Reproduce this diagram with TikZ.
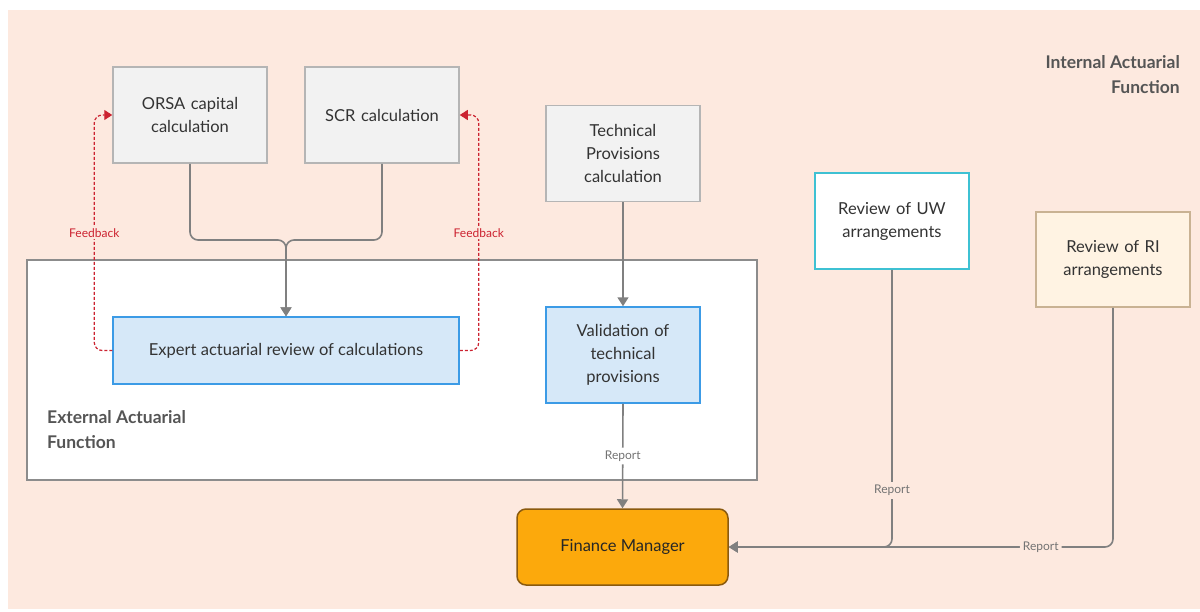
\documentclass[tikz,border=0pt]{standalone}
\usepackage{fontspec}
\setmainfont{Lato}
\usetikzlibrary{arrows.meta}
\definecolor{bgpeach}{HTML}{FDE9DF}
\definecolor{txt}{HTML}{333333}
\definecolor{ttl}{HTML}{555555}
\definecolor{grayfill}{HTML}{F2F2F2}
\definecolor{grayline}{HTML}{B5B5B5}
\definecolor{bluefill}{HTML}{D6E8F8}
\definecolor{blueline}{HTML}{3C9BE6}
\definecolor{cyanline}{HTML}{3EC1D3}
\definecolor{creamfill}{HTML}{FFF3E3}
\definecolor{tanline}{HTML}{C9B293}
\definecolor{orangefill}{HTML}{FCA90C}
\definecolor{orangeline}{HTML}{8A5A0E}
\definecolor{conncol}{HTML}{808080}
\definecolor{fbred}{HTML}{CC2230}
\definecolor{outerline}{HTML}{8C8C8C}
\tikzset{
  box/.style={draw, line width=1.5pt, align=center, text=txt, font=\fontsize{16.5}{23}\selectfont, inner sep=0pt},
  graybox/.style={box, fill=grayfill, draw=grayline, minimum width=154pt, minimum height=96pt, text width=140pt},
  bluebox/.style={box, fill=bluefill, draw=blueline},
  conn/.style={draw=conncol, line width=1.6pt, -{Triangle[length=9pt,width=11pt]}, rounded corners=8pt},
  plain/.style={draw=conncol, line width=1.6pt, rounded corners=8pt},
  fb/.style={draw=fbred, line width=1.2pt, dashed, dash pattern=on 3pt off 2pt, -{Triangle[length=8pt,width=10pt]}, rounded corners=8pt},
  fblbl/.style={font=\fontsize{12}{14}\selectfont, text=fbred, fill=bgpeach, inner sep=2pt},
  replbl/.style={font=\fontsize{12}{14}\selectfont, text=conncol!90!black, inner sep=3pt},
  ttlstyle/.style={font=\bfseries\fontsize{17.5}{25}\selectfont, text=ttl, inner sep=0pt},
}
\begin{document}
\begin{tikzpicture}[x=1pt,y=-1pt]
\useasboundingbox (0,0) rectangle (1200,611);
\fill[bgpeach] (8,10) rectangle (1200,609);
% external function container
\node[draw=outerline, fill=white, line width=1.5pt, minimum width=730pt, minimum height=220pt, inner sep=0pt] (ext) at (392,370) {};
\node[ttlstyle, align=left, anchor=north west] (extlbl) at (47,410) {External Actuarial\\Function};
\node[ttlstyle, align=right, anchor=north east] (intlbl) at (1180,55) {Internal Actuarial\\Function};
% boxes
\node[graybox] (orsa) at (190,115) {ORSA capital\\calculation};
\node[graybox] (scr) at (382,115) {SCR calculation};
\node[graybox] (tp) at (623,153.5) {Technical\\Provisions\\calculation};
\node[box, fill=white, draw=cyanline, minimum width=154pt, minimum height=96pt, text width=140pt] (uw) at (892,221) {Review of UW\\arrangements};
\node[box, fill=creamfill, draw=tanline, minimum width=154pt, minimum height=95pt, text width=140pt] (ri) at (1113,259.5) {Review of RI\\arrangements};
\node[bluebox, minimum width=346pt, minimum height=67pt] (expert) at (286,350.5) {Expert actuarial review of calculations};
\node[bluebox, minimum width=154pt, minimum height=96pt, text width=140pt] (val) at (623,355) {Validation of\\technical\\provisions};
\node[box, fill=orangefill, draw=orangeline, rounded corners=9pt, minimum width=211pt, minimum height=76pt, text=black!85] (fm) at (622.5,547) {Finance Manager};
% merge
\coordinate (j) at (286,240);
\draw[conn] (orsa.south) |- (j) -- (expert.north);
\draw[conn] (scr.south) |- (j) -- (expert.north);
% feedback
\draw[fb] (expert.west) -- ++(-18,0) |- node[pos=0.25, fblbl] {Feedback} (orsa.west);
\draw[fb] (expert.east) -- ++(19,0) |- node[pos=0.25, fblbl] {Feedback} (scr.east);
% TP to validation
\draw[conn] (tp.south) -- (val.north);
% validation to finance
\draw[conn] (val.south) -- node[pos=0.5, replbl, fill=white] {Report} (fm.north);
% UW and RI to finance
\draw[conn] (uw.south) |- node[pos=0.398, replbl, fill=bgpeach] {Report} (fm.east);
\draw[conn] (ri.south) |- node[pos=0.594, replbl, fill=bgpeach] {Report} (fm.east);
\end{tikzpicture}
\end{document}
